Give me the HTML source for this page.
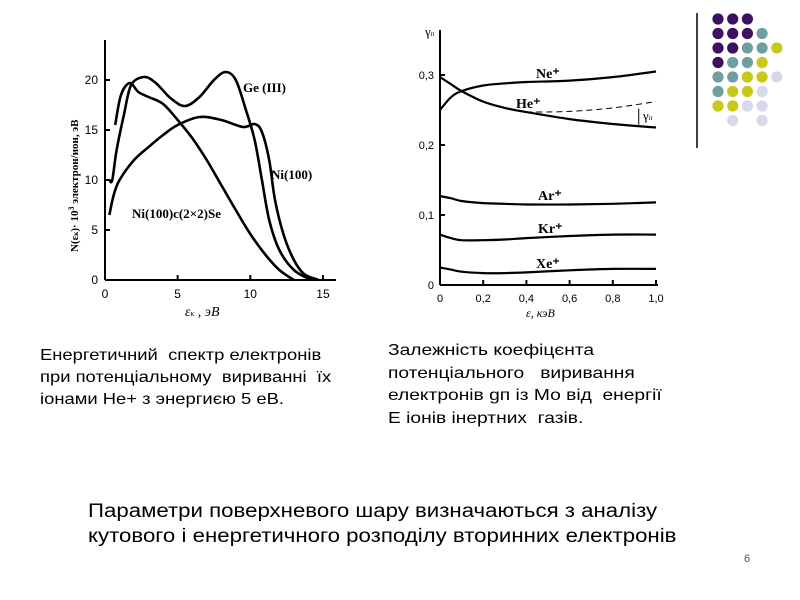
<!DOCTYPE html>
<html><head><meta charset="utf-8"><style>
body{margin:0;background:#fff;width:800px;height:600px;overflow:hidden;font-family:"Liberation Sans",sans-serif}
.t{position:absolute;font-size:16px;line-height:22px;color:#000;white-space:pre;transform-origin:0 0}
</style></head><body>
<svg id="svg" width="800" height="600" style="position:absolute;left:0;top:0" xmlns="http://www.w3.org/2000/svg" font-family="Liberation Serif, serif"></svg>
<div class="t" style="left:40px;top:345px;transform:scaleX(1.15)">Енергетичний  спектр електронів
при потенціальному  вириванні  їх
іонами Не+ з энергиєю 5 еВ.</div>
<div class="t" style="left:388px;top:340px;line-height:22.5px;transform:scaleX(1.2)">Залежність коефіцєнта
потенціального   виривання
електронів gп із Мо від  енергії
Е іонів інертних  газів.</div>
<div class="t" style="left:88px;top:499px;font-size:19px;line-height:25px;transform:scaleX(1.17)">Параметри поверхневого шару визначаються з аналізу
кутового і енергетичного розподілу вторинних електронів</div>
<div class="t" style="left:744px;top:548px;font-size:11px;color:#555">6</div>
<script>
// Left chart data
const lxTicks=[0,5,10,15];
const lyTicks=[0,5,10,15,20];
const geX=[0.3,0.5,0.8,1.3,1.8,2.7,3.5,4.5,5.5,6.5,7.5,8.3,9,9.7,10.3,10.8,11.3,12,13,14.2];
const geY=[10,10,13,16.5,19.5,20.3,19.7,18.2,17.4,18.3,20,20.8,20,17,14,10,6,3,1,0];
const seX=[0.7,1.1,1.7,2.3,3,4,5,6,7,8,9,10,11,12,13];
const seY=[15.5,18.5,19.7,18.8,18.3,17.6,16,14.2,12,9.5,7,4.6,2.6,1,0];
const niX=[0.3,0.6,1,2,3,4,5,6.5,8,9.5,10.3,10.8,11.3,11.7,12.3,13,13.7,14.7];
const niY=[6.5,8.5,10,12,13.3,14.5,15.5,16.3,16,15.3,15.6,14.8,12,8,4.5,2,0.6,0];
// Right chart data
const rxTicks=[0,0.2,0.4,0.6,0.8,1.0];
const rxLabels=["0","0,2","0,4","0,6","0,8","1,0"];
const ryTicks=[0,0.1,0.2,0.3];
const ryLabels=["0","0,1","0,2","0,3"];
const rX=[0,0.05,0.1,0.2,0.3,0.4,0.6,0.8,1.0];
const neY=[0.25,0.268,0.277,0.285,0.288,0.29,0.292,0.297,0.305];
const heY=[0.297,0.287,0.277,0.262,0.253,0.247,0.237,0.23,0.225];
const dashX=[0.4,0.6,0.8,1.0];
const dashY=[0.247,0.248,0.253,0.262];
const arY=[0.127,0.124,0.12,0.117,0.116,0.115,0.115,0.116,0.118];
const krY=[0.072,0.067,0.064,0.064,0.065,0.067,0.07,0.072,0.072];
const xeY=[0.025,0.022,0.019,0.017,0.017,0.018,0.021,0.023,0.023];

const S=document.getElementById('svg');const NS='http://www.w3.org/2000/svg';
function el(t,a,p){const e=document.createElementNS(NS,t);for(const k in a)e.setAttribute(k,a[k]);(p||S).appendChild(e);return e;}
const lx=v=>105+v*14.53, ly=v=>280-v*10;
const rx=v=>440+v*216, ry=v=>285-v*700;
function smooth(xs,ys,fx,fy){const p=xs.map((x,i)=>[fx(x),fy(ys[i])]);let d='M'+p[0][0]+','+p[0][1];
for(let i=0;i<p.length-1;i++){const p0=p[i-1]||p[i],p1=p[i],p2=p[i+1],p3=p[i+2]||p2;
d+=` C${p1[0]+(p2[0]-p0[0])/6},${p1[1]+(p2[1]-p0[1])/6} ${p2[0]-(p3[0]-p1[0])/6},${p2[1]-(p3[1]-p1[1])/6} ${p2[0]},${p2[1]}`;}return d;}
function txt(x,y,s,a,name,sz){const e=el('text',Object.assign({x:x,y:y,'font-size':sz||12},a||{}));e.textContent=s;

return e;}
// left axes
let g=el('g',{stroke:'#000','stroke-width':2,fill:'none'});


el('line',{x1:105,y1:40,x2:105,y2:280},g);el('line',{x1:105,y1:280,x2:336,y2:280},g);
lxTicks.forEach(v=>{el('line',{x1:lx(v),y1:280,x2:lx(v),y2:275},g);txt(lx(v),298,String(v),{'text-anchor':'middle','font-family':'Liberation Sans'},'x-tick-label',12);});
lyTicks.forEach(v=>{el('line',{x1:105,y1:ly(v),x2:110,y2:ly(v)},g);txt(98,ly(v)+4,String(v),{'text-anchor':'end','font-family':'Liberation Sans'},'y-tick-label',12);});
[[geX,geY,'curve-ge111'],[seX,seY,'curve-ni100-se'],[niX,niY,'curve-ni100']].forEach(c=>{const p=el('path',{d:smooth(c[0],c[1],lx,ly),stroke:'#000','stroke-width':2.6,fill:'none'});

});
txt(243,92,'Ge (III)',{'font-weight':'bold'},'label-ge111',13);
txt(271,179,'Ni(100)',{'font-weight':'bold'},'label-ni100',13);
txt(132,218,'Ni(100)c(2×2)Se',{'font-weight':'bold'},'label-ni100-se',13);
txt(185,316,'ε',{'font-style':'italic','font-size':14},'x-axis-title-left',14).innerHTML='ε<tspan font-size="8">к</tspan> , эВ';
const yt=txt(0,0,'',{transform:'translate(78,252) rotate(-90)','font-weight':'bold'},'y-axis-title-left',11);
yt.innerHTML='N(ε<tspan font-size="7">к</tspan>)· 10<tspan dy="-4" font-size="8">3</tspan><tspan dy="4"> электрон/ион, эВ</tspan>';
// right axes
g=el('g',{stroke:'#000','stroke-width':2,fill:'none'});


el('line',{x1:440,y1:30,x2:440,y2:285},g);el('line',{x1:440,y1:285,x2:658,y2:285},g);
rxTicks.forEach((v,i)=>{el('line',{x1:rx(v),y1:285,x2:rx(v),y2:280},g);txt(rx(v),302,rxLabels[i],{'text-anchor':'middle','font-family':'Liberation Sans'},'x-tick-label',11);});
ryTicks.forEach((v,i)=>{el('line',{x1:440,y1:ry(v),x2:445,y2:ry(v)},g);txt(434,ry(v)+4,ryLabels[i],{'text-anchor':'end','font-family':'Liberation Sans'},'y-tick-label',11);});
[[rX,neY,'curve-ne'],[rX,heY,'curve-he'],[rX,arY,'curve-ar'],[rX,krY,'curve-kr'],[rX,xeY,'curve-xe']].forEach(c=>{const p=el('path',{d:smooth(c[0],c[1],rx,ry),stroke:'#000','stroke-width':2.2,fill:'none'});

});
const dp=el('path',{d:smooth(dashX,dashY,rx,ry),stroke:'#000','stroke-width':1,fill:'none','stroke-dasharray':'6,4'});


const ar=el('line',{x1:rx(0.92),y1:ry(0.252),x2:rx(0.92),y2:ry(0.229),stroke:'#000','stroke-width':1});


txt(536,78,'Ne⁺',{'font-weight':'bold'},'label-ne',14);
txt(516,108,'He⁺',{'font-weight':'bold'},'label-he',14);
txt(643,120,'γ',{},'label-gamma-n',13).innerHTML='γ<tspan font-size="7">п</tspan>';
txt(538,200,'Ar⁺',{'font-weight':'bold'},'label-ar',14);
txt(538,233,'Kr⁺',{'font-weight':'bold'},'label-kr',14);
txt(536,268,'Xe⁺',{'font-weight':'bold'},'label-xe',14);
txt(425,36,'',{},'y-axis-title-right',13).innerHTML='γ<tspan font-size="7">п</tspan>';
txt(526,317,'',{'font-style':'italic'},'x-axis-title-right',12).innerHTML='ε, кэВ';
// decorative dots
const dl=el('line',{x1:697,y1:13,x2:697,y2:148,stroke:'#000','stroke-width':1.5});


const C={P:'#3d1060',T:'#6f9fa0',Y:'#c8c81a',L:'#d8d8ec'};
const rows=['PPP','PPPT','PPTTY','PTTY','TTYYL','TYYL','YYLL','_L_L'];
rows.forEach((r,j)=>[...r].forEach((c,i)=>{if(c==='_')return;const d=el('circle',{cx:718+i*14.7,cy:19+j*14.5,r:5.6,fill:C[c]});

}));
</script>
</body></html>
